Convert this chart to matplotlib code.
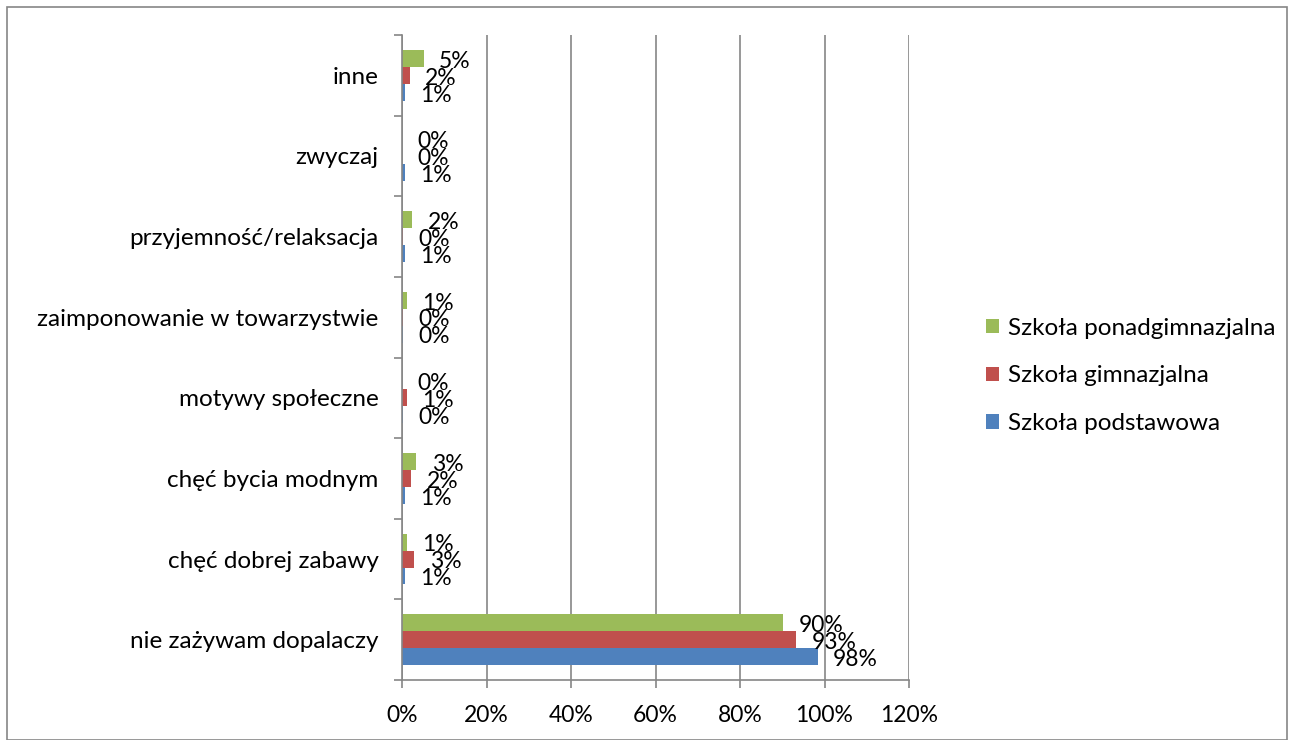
import matplotlib
matplotlib.use("Agg")
from matplotlib import pyplot as plt
from matplotlib.patches import Rectangle
import numpy as np

plt.rcParams['font.family'] = ['Lato', 'DejaVu Sans']

# categories bottom -> top
categories = ['nie zażywam dopalaczy', 'chęć dobrej zabawy', 'chęć bycia modnym',
              'motywy społeczne', 'zaimponowanie w towarzystwie',
              'przyjemność/relaksacja', 'zwyczaj', 'inne']
podstawowa = [98.4, 0.7, 0.7, 0.2, 0.2, 0.7, 0.7, 0.7]
gimnazjalna = [93.3, 2.9, 2.2, 1.1, 0.3, 0.3, 0.0, 1.8]
ponadgimnazjalna = [90.2, 1.1, 3.4, 0.0, 1.1, 2.4, 0.0, 5.2]

series = [('Szkoła podstawowa', podstawowa, '#4F81BD', -0.21),
          ('Szkoła gimnazjalna', gimnazjalna, '#C0504D', 0.0),
          ('Szkoła ponadgimnazjalna', ponadgimnazjalna, '#9BBB59', 0.21)]

fig = plt.figure(figsize=(12.9, 7.4), dpi=100)
ax = fig.add_axes([402/1290, 1-680/740, (909-402)/1290, (680-35)/740])

y = np.arange(len(categories))
handles = []
for name, vals, col, off in series:
    b = ax.barh(y + off, vals, height=0.21, color=col, label=name)
    handles.append(b)
    for yi, v in zip(y, vals):
        # labels overlap each other, same as in the original chart
        ax.annotate(f"{round(v):d}%", (v, yi + off), xytext=(11, -2),
                    textcoords='offset points', va='center', ha='left',
                    fontsize=16.5, color='black')

ax.set_xlim(0, 120)
ax.set_ylim(-0.5, len(categories) - 0.5)
ax.set_xticks(np.arange(0, 121, 20))
ax.set_xticklabels([f"{t}%" for t in range(0, 121, 20)], fontsize=16.5)
ax.set_yticks(y)
ax.set_yticklabels(categories, fontsize=17.5)
ax.set_yticks(np.arange(-0.5, len(categories), 1), minor=True)
ax.tick_params(axis='y', which='major', length=0, pad=17)
ax.tick_params(axis='y', which='minor', length=6, color='#868686', width=1.2)
ax.tick_params(axis='x', length=6, color='#868686', width=1.2, pad=12)
ax.xaxis.grid(True, color='#868686', linewidth=1.2)
ax.set_axisbelow(True)
for s in ['top', 'right']:
    ax.spines[s].set_visible(False)
for s in ['left', 'bottom']:
    ax.spines[s].set_color('#868686')
    ax.spines[s].set_linewidth(1.2)

fig.legend(handles[::-1], [s[0] for s in series][::-1], loc='center left',
           bbox_to_anchor=(964/1290, 1-376/740), frameon=False, fontsize=17.5,
           handlelength=0.55, handleheight=0.55, labelspacing=1.1, handletextpad=0.35)

fig.patches.append(Rectangle((7/1290, 0), 1280/1290, 1-7/740, transform=fig.transFigure,
                             fill=False, edgecolor='#868686', linewidth=1.2))

fig.savefig('out.png', dpi=100)
